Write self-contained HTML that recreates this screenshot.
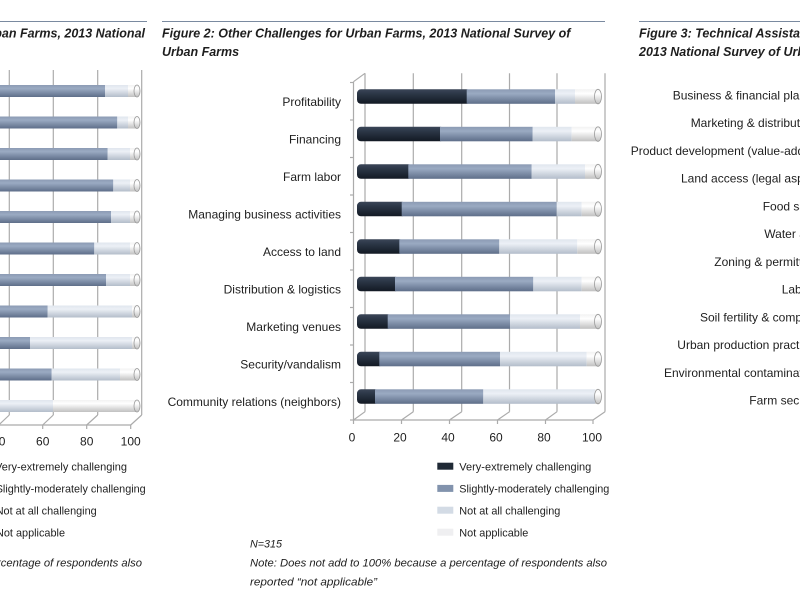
<!DOCTYPE html>
<html>
<head>
<meta charset="utf-8">
<style>
html,body{margin:0;padding:0;background:#fff;}
svg{display:block;}
text{font-family:"Liberation Sans",sans-serif;fill:#1e1e1e;}
.t{font-size:12.5px;font-style:italic;font-weight:bold;}
.lab{font-size:12px;}
.tick{font-size:12px;}
.leg{font-size:11px;}
.note{font-size:11px;font-style:italic;}
</style>
</head>
<body>
<svg width="800" height="600" viewBox="0 0 800 600" xmlns="http://www.w3.org/2000/svg">
<defs>
<linearGradient id="gD" x1="0" y1="0" x2="0" y2="1"><stop offset="0" stop-color="#3b4658"/><stop offset="0.3" stop-color="#2c3747"/><stop offset="1" stop-color="#121923"/></linearGradient>
<linearGradient id="gM" x1="0" y1="0" x2="0" y2="1"><stop offset="0" stop-color="#8c9bb4"/><stop offset="0.3" stop-color="#9aaac2"/><stop offset="1" stop-color="#5e6e89"/></linearGradient>
<linearGradient id="gL" x1="0" y1="0" x2="0" y2="1"><stop offset="0" stop-color="#e0e6ee"/><stop offset="0.3" stop-color="#ecf0f6"/><stop offset="1" stop-color="#b3bdca"/></linearGradient>
<linearGradient id="gW" x1="0" y1="0" x2="0" y2="1"><stop offset="0" stop-color="#f2f2f2"/><stop offset="0.3" stop-color="#ffffff"/><stop offset="1" stop-color="#c0c0c0"/></linearGradient>
</defs>
<rect width="800" height="600" fill="#fff"/>

<!-- Title rules -->
<line x1="0" y1="21.5" x2="147" y2="21.5" stroke="#7a8aa0" stroke-width="1"/>
<line x1="162" y1="21.5" x2="605" y2="21.5" stroke="#7a8aa0" stroke-width="1"/>
<line x1="639" y1="21.5" x2="800" y2="21.5" stroke="#7a8aa0" stroke-width="1"/>

<!-- Titles -->
<text class="t" x="145" y="37.7" text-anchor="end">Figure 1: Production Challenges for Urban Farms, 2013 National</text>
<text class="t" x="162" y="37.7">Figure 2: Other Challenges for Urban Farms, 2013 National Survey of</text>
<text class="t" x="162" y="56">Urban Farms</text>
<text class="t" x="639" y="37.7">Figure 3: Technical Assistance Needs of Urban Farms,</text>
<text class="t" x="639" y="56">2013 National Survey of Urban Farms</text>

<!-- ============ FIGURE 1 (partial) ============ -->
<g stroke="#ababab" stroke-width="1.2" fill="none">
<line x1="9.3" y1="70" x2="9.3" y2="415"/>
<line x1="53.3" y1="70" x2="53.3" y2="415"/>
<line x1="97.7" y1="70" x2="97.7" y2="415"/>
<line x1="141.7" y1="70" x2="141.7" y2="415"/>
<line x1="0" y1="425" x2="130.7" y2="425"/>
<line x1="-1.3" y1="425" x2="9.3" y2="415"/>
<line x1="42.7" y1="425" x2="53.3" y2="415"/>
<line x1="86.7" y1="425" x2="97.7" y2="415"/>
<line x1="130.7" y1="425" x2="141.7" y2="415"/>
<line x1="42.7" y1="425" x2="42.7" y2="429"/>
<line x1="86.7" y1="425" x2="86.7" y2="429"/>
<line x1="130.7" y1="425" x2="130.7" y2="429"/>
</g>
<!-- fig1 bars -->
<g>
<rect x="-5" y="85" width="110" height="12" fill="url(#gM)"/><rect x="105" y="85" width="23" height="12" fill="url(#gL)"/><rect x="128" y="85" width="9" height="12" fill="url(#gW)"/><ellipse cx="137" cy="91" rx="3" ry="6" fill="url(#gW)" stroke="#999" stroke-width="0.8"/>
<rect x="-5" y="116.5" width="122.3" height="12" fill="url(#gM)"/><rect x="117.3" y="116.5" width="10.7" height="12" fill="url(#gL)"/><rect x="128" y="116.5" width="9" height="12" fill="url(#gW)"/><ellipse cx="137" cy="122.5" rx="3" ry="6" fill="url(#gW)" stroke="#999" stroke-width="0.8"/>
<rect x="-5" y="148" width="112.7" height="12" fill="url(#gM)"/><rect x="107.7" y="148" width="22.3" height="12" fill="url(#gL)"/><rect x="130" y="148" width="7" height="12" fill="url(#gW)"/><ellipse cx="137" cy="154" rx="3" ry="6" fill="url(#gW)" stroke="#999" stroke-width="0.8"/>
<rect x="-5" y="179.5" width="118.3" height="12" fill="url(#gM)"/><rect x="113.3" y="179.5" width="16.7" height="12" fill="url(#gL)"/><rect x="130" y="179.5" width="7" height="12" fill="url(#gW)"/><ellipse cx="137" cy="185.5" rx="3" ry="6" fill="url(#gW)" stroke="#999" stroke-width="0.8"/>
<rect x="-5" y="211" width="116" height="12" fill="url(#gM)"/><rect x="111" y="211" width="19" height="12" fill="url(#gL)"/><rect x="130" y="211" width="7" height="12" fill="url(#gW)"/><ellipse cx="137" cy="217" rx="3" ry="6" fill="url(#gW)" stroke="#999" stroke-width="0.8"/>
<rect x="-5" y="242.5" width="99.3" height="12" fill="url(#gM)"/><rect x="94.3" y="242.5" width="35.7" height="12" fill="url(#gL)"/><rect x="130" y="242.5" width="7" height="12" fill="url(#gW)"/><ellipse cx="137" cy="248.5" rx="3" ry="6" fill="url(#gW)" stroke="#999" stroke-width="0.8"/>
<rect x="-5" y="274" width="111" height="12" fill="url(#gM)"/><rect x="106" y="274" width="24" height="12" fill="url(#gL)"/><rect x="130" y="274" width="7" height="12" fill="url(#gW)"/><ellipse cx="137" cy="280" rx="3" ry="6" fill="url(#gW)" stroke="#999" stroke-width="0.8"/>
<rect x="-5" y="305.5" width="52.7" height="12" fill="url(#gM)"/><rect x="47.7" y="305.5" width="84.3" height="12" fill="url(#gL)"/><rect x="132" y="305.5" width="5" height="12" fill="url(#gW)"/><ellipse cx="137" cy="311.5" rx="3" ry="6" fill="url(#gW)" stroke="#999" stroke-width="0.8"/>
<rect x="-5" y="337" width="35" height="12" fill="url(#gM)"/><rect x="30" y="337" width="102" height="12" fill="url(#gL)"/><rect x="132" y="337" width="5" height="12" fill="url(#gW)"/><ellipse cx="137" cy="343" rx="3" ry="6" fill="url(#gW)" stroke="#999" stroke-width="0.8"/>
<rect x="-5" y="368.5" width="56.7" height="12" fill="url(#gM)"/><rect x="51.7" y="368.5" width="68.3" height="12" fill="url(#gL)"/><rect x="120" y="368.5" width="17" height="12" fill="url(#gW)"/><ellipse cx="137" cy="374.5" rx="3" ry="6" fill="url(#gW)" stroke="#999" stroke-width="0.8"/>
<rect x="-5" y="400" width="58" height="12" fill="url(#gL)"/><rect x="53" y="400" width="84" height="12" fill="url(#gW)"/><ellipse cx="137" cy="406" rx="3" ry="6" fill="url(#gW)" stroke="#999" stroke-width="0.8"/>
</g>
<text class="tick" x="-1.3" y="445.7" text-anchor="middle">40</text>
<text class="tick" x="42.7" y="445.7" text-anchor="middle">60</text>
<text class="tick" x="86.7" y="445.7" text-anchor="middle">80</text>
<text class="tick" x="130.7" y="445.7" text-anchor="middle">100</text>
<text class="leg" x="-5" y="470.5" textLength="132" lengthAdjust="spacingAndGlyphs">Very-extremely challenging</text>
<text class="leg" x="-4.3" y="492.7" textLength="150" lengthAdjust="spacingAndGlyphs">Slightly-moderately challenging</text>
<text class="leg" x="-4.3" y="514.5" textLength="101" lengthAdjust="spacingAndGlyphs">Not at all challenging</text>
<text class="leg" x="-4" y="536.5" textLength="69" lengthAdjust="spacingAndGlyphs">Not applicable</text>
<text class="note" x="142" y="566.5" text-anchor="end" textLength="357" lengthAdjust="spacingAndGlyphs">Note: Does not add to 100% because a percentage of respondents also</text>

<!-- ============ FIGURE 2 ============ -->
<g stroke="#ababab" stroke-width="1.2" fill="none">
<!-- back gridlines -->
<line x1="365" y1="73.3" x2="365" y2="411.7"/>
<line x1="413.3" y1="73.3" x2="413.3" y2="411.7"/>
<line x1="461.7" y1="73.3" x2="461.7" y2="411.7"/>
<line x1="509.5" y1="73.3" x2="509.5" y2="411.7"/>
<line x1="557" y1="73.3" x2="557" y2="411.7"/>
<line x1="605" y1="73.3" x2="605" y2="411.7"/>
<!-- left wall -->
<line x1="353.5" y1="81.7" x2="353.5" y2="420"/>
<line x1="353.5" y1="81.7" x2="365" y2="73.3"/>
<!-- floor -->
<line x1="353.5" y1="420" x2="593" y2="420"/>
<line x1="353.5" y1="420" x2="365" y2="411.7"/>
<line x1="401.5" y1="420" x2="413.3" y2="411.7"/>
<line x1="449.5" y1="420" x2="461.7" y2="411.7"/>
<line x1="497.5" y1="420" x2="509.5" y2="411.7"/>
<line x1="545.5" y1="420" x2="557" y2="411.7"/>
<line x1="593" y1="420" x2="605" y2="411.7"/>
<line x1="353.5" y1="420" x2="353.5" y2="424"/>
<line x1="401.5" y1="420" x2="401.5" y2="424"/>
<line x1="449.5" y1="420" x2="449.5" y2="424"/>
<line x1="497.5" y1="420" x2="497.5" y2="424"/>
<line x1="545.5" y1="420" x2="545.5" y2="424"/>
<line x1="593" y1="420" x2="593" y2="424"/>
<!-- category ticks -->
<line x1="350" y1="82.5" x2="353.5" y2="82.5"/>
<line x1="350" y1="120" x2="353.5" y2="120"/>
<line x1="350" y1="157.5" x2="353.5" y2="157.5"/>
<line x1="350" y1="195" x2="353.5" y2="195"/>
<line x1="350" y1="232.5" x2="353.5" y2="232.5"/>
<line x1="350" y1="270" x2="353.5" y2="270"/>
<line x1="350" y1="307.5" x2="353.5" y2="307.5"/>
<line x1="350" y1="345" x2="353.5" y2="345"/>
<line x1="350" y1="382.5" x2="353.5" y2="382.5"/>
<line x1="350" y1="420" x2="353.5" y2="420"/>
</g>

<!-- fig2 bars -->
<g>
<!-- Profitability -->
<rect x="357" y="89.3" width="113.7" height="14.5" rx="4" fill="url(#gD)"/><rect x="466.7" y="89.3" width="88.3" height="14.5" fill="url(#gM)"/><rect x="555" y="89.3" width="20" height="14.5" fill="url(#gL)"/><rect x="575" y="89.3" width="23" height="14.5" fill="url(#gW)"/><ellipse cx="598" cy="96.55" rx="3.5" ry="7.25" fill="url(#gW)" stroke="#999" stroke-width="0.8"/>
<!-- Financing -->
<rect x="357" y="126.8" width="87" height="14.5" rx="4" fill="url(#gD)"/><rect x="440" y="126.8" width="92.7" height="14.5" fill="url(#gM)"/><rect x="532.7" y="126.8" width="39" height="14.5" fill="url(#gL)"/><rect x="571.7" y="126.8" width="26.3" height="14.5" fill="url(#gW)"/><ellipse cx="598" cy="134.05" rx="3.5" ry="7.25" fill="url(#gW)" stroke="#999" stroke-width="0.8"/>
<!-- Farm labor -->
<rect x="357" y="164.3" width="55.3" height="14.5" rx="4" fill="url(#gD)"/><rect x="408.3" y="164.3" width="123.4" height="14.5" fill="url(#gM)"/><rect x="531.7" y="164.3" width="53.3" height="14.5" fill="url(#gL)"/><rect x="585" y="164.3" width="13" height="14.5" fill="url(#gW)"/><ellipse cx="598" cy="171.55" rx="3.5" ry="7.25" fill="url(#gW)" stroke="#999" stroke-width="0.8"/>
<!-- Managing -->
<rect x="357" y="201.8" width="48.7" height="14.5" rx="4" fill="url(#gD)"/><rect x="401.7" y="201.8" width="155" height="14.5" fill="url(#gM)"/><rect x="556.7" y="201.8" width="25" height="14.5" fill="url(#gL)"/><rect x="581.7" y="201.8" width="16.3" height="14.5" fill="url(#gW)"/><ellipse cx="598" cy="209.05" rx="3.5" ry="7.25" fill="url(#gW)" stroke="#999" stroke-width="0.8"/>
<!-- Access to land -->
<rect x="357" y="239.3" width="46.3" height="14.5" rx="4" fill="url(#gD)"/><rect x="399.3" y="239.3" width="100" height="14.5" fill="url(#gM)"/><rect x="499.3" y="239.3" width="78" height="14.5" fill="url(#gL)"/><rect x="577.3" y="239.3" width="20.7" height="14.5" fill="url(#gW)"/><ellipse cx="598" cy="246.55" rx="3.5" ry="7.25" fill="url(#gW)" stroke="#999" stroke-width="0.8"/>
<!-- Distribution -->
<rect x="357" y="276.8" width="42" height="14.5" rx="4" fill="url(#gD)"/><rect x="395" y="276.8" width="138.3" height="14.5" fill="url(#gM)"/><rect x="533.3" y="276.8" width="48.4" height="14.5" fill="url(#gL)"/><rect x="581.7" y="276.8" width="16.3" height="14.5" fill="url(#gW)"/><ellipse cx="598" cy="284.05" rx="3.5" ry="7.25" fill="url(#gW)" stroke="#999" stroke-width="0.8"/>
<!-- Marketing venues -->
<rect x="357" y="314.3" width="34.7" height="14.5" rx="4" fill="url(#gD)"/><rect x="387.7" y="314.3" width="122.3" height="14.5" fill="url(#gM)"/><rect x="510" y="314.3" width="70" height="14.5" fill="url(#gL)"/><rect x="580" y="314.3" width="18" height="14.5" fill="url(#gW)"/><ellipse cx="598" cy="321.55" rx="3.5" ry="7.25" fill="url(#gW)" stroke="#999" stroke-width="0.8"/>
<!-- Security -->
<rect x="357" y="351.8" width="26.3" height="14.5" rx="4" fill="url(#gD)"/><rect x="379.3" y="351.8" width="120.7" height="14.5" fill="url(#gM)"/><rect x="500" y="351.8" width="86.7" height="14.5" fill="url(#gL)"/><rect x="586.7" y="351.8" width="11.3" height="14.5" fill="url(#gW)"/><ellipse cx="598" cy="359.05" rx="3.5" ry="7.25" fill="url(#gW)" stroke="#999" stroke-width="0.8"/>
<!-- Community -->
<rect x="357" y="389.3" width="22" height="14.5" rx="4" fill="url(#gD)"/><rect x="375" y="389.3" width="108.3" height="14.5" fill="url(#gM)"/><rect x="483.3" y="389.3" width="111.7" height="14.5" fill="url(#gL)"/><rect x="595" y="389.3" width="3" height="14.5" fill="url(#gW)"/><ellipse cx="598" cy="396.55" rx="3.5" ry="7.25" fill="url(#gW)" stroke="#999" stroke-width="0.8"/>
</g>

<!-- fig2 category labels -->
<g class="lab" text-anchor="end">
<text class="lab" x="341" y="106">Profitability</text>
<text class="lab" x="341" y="143.5">Financing</text>
<text class="lab" x="341" y="181">Farm labor</text>
<text class="lab" x="341" y="218.5">Managing business activities</text>
<text class="lab" x="341" y="256">Access to land</text>
<text class="lab" x="341" y="293.5">Distribution &amp; logistics</text>
<text class="lab" x="341" y="331">Marketing venues</text>
<text class="lab" x="341" y="368.5">Security/vandalism</text>
<text class="lab" x="341" y="406">Community relations (neighbors)</text>
</g>

<!-- fig2 tick labels -->
<text class="tick" x="352" y="441.7" text-anchor="middle">0</text>
<text class="tick" x="400" y="441.7" text-anchor="middle">20</text>
<text class="tick" x="448" y="441.7" text-anchor="middle">40</text>
<text class="tick" x="496" y="441.7" text-anchor="middle">60</text>
<text class="tick" x="544" y="441.7" text-anchor="middle">80</text>
<text class="tick" x="592" y="441.7" text-anchor="middle">100</text>

<!-- fig2 legend -->
<rect x="437.3" y="462.7" width="16" height="7" fill="#1f2935"/>
<rect x="437.3" y="484.9" width="16" height="7" fill="#8293ad"/>
<rect x="437.3" y="506.7" width="16" height="7" fill="#d3dbe5"/>
<rect x="437.3" y="528.7" width="16" height="7" fill="#efeff1"/>
<text class="leg" x="459.3" y="470.5" textLength="132" lengthAdjust="spacingAndGlyphs">Very-extremely challenging</text>
<text class="leg" x="459.3" y="492.7" textLength="150" lengthAdjust="spacingAndGlyphs">Slightly-moderately challenging</text>
<text class="leg" x="459.3" y="514.5" textLength="101" lengthAdjust="spacingAndGlyphs">Not at all challenging</text>
<text class="leg" x="459.3" y="536.5" textLength="69" lengthAdjust="spacingAndGlyphs">Not applicable</text>

<!-- fig2 notes -->
<text class="note" x="250" y="547.3" textLength="32" lengthAdjust="spacingAndGlyphs">N=315</text>
<text class="note" x="250" y="566.7" textLength="357" lengthAdjust="spacingAndGlyphs">Note: Does not add to 100% because a percentage of respondents also</text>
<text class="note" x="250" y="585.7" textLength="127" lengthAdjust="spacingAndGlyphs">reported “not applicable”</text>

<!-- ============ FIGURE 3 (partial) ============ -->
<g>
<text class="lab" x="672.7" y="99.5">Business &amp; financial planning</text>
<text class="lab" x="690.7" y="127.2">Marketing &amp; distribution</text>
<text class="lab" x="630.7" y="155">Product development (value-added)</text>
<text class="lab" x="681" y="182.7">Land access (legal aspects)</text>
<text class="lab" x="762.7" y="210.4">Food safety</text>
<text class="lab" x="764.3" y="238.2">Water access</text>
<text class="lab" x="714.3" y="265.9">Zoning &amp; permitting</text>
<text class="lab" x="781.7" y="293.6">Labor</text>
<text class="lab" x="700" y="321.3">Soil fertility &amp; compost</text>
<text class="lab" x="677.3" y="349.1">Urban production practices</text>
<text class="lab" x="664" y="376.8">Environmental contamination</text>
<text class="lab" x="749.3" y="404.5">Farm security</text>
</g>
</svg>
</body>
</html>
